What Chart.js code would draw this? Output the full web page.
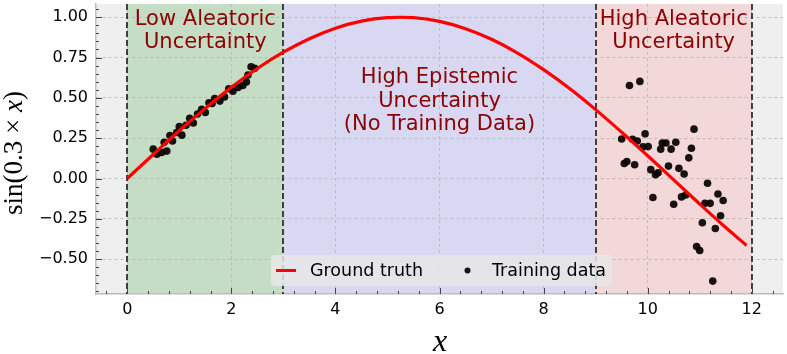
<!DOCTYPE html>
<html>
<head>
<meta charset="utf-8">
<script src="https://cdn.jsdelivr.net/npm/chart.js@4.4.0/dist/chart.umd.min.js"></script>
<style>
  html, body { margin: 0; padding: 0; background: #fff; }
  #chart { display: block; }
</style>
</head>
<body>
<canvas id="chart" width="787" height="354"></canvas>
<script>
// Ground truth curve
const curveX = [0, 0.5, 1, 1.5, 2, 2.5, 3, 3.5, 4, 4.5, 5, 5.5, 6, 6.5, 7, 7.5, 8, 8.5, 9, 9.5, 10, 10.5, 11, 11.5, 11.9];
const curveY = [0, 0.149, 0.296, 0.435, 0.565, 0.682, 0.783, 0.867, 0.932, 0.976, 0.997, 0.997, 0.974, 0.929, 0.863, 0.778, 0.675, 0.558, 0.427, 0.287, 0.141, -0.008, -0.158, -0.304, -0.415];

// Training points, low noise cluster (left)
const lowX = [0.50, 0.57, 0.66, 0.71, 0.76, 0.82, 0.87, 0.95, 1.00, 1.05, 1.13, 1.20, 1.27, 1.35, 1.43, 1.50, 1.57, 1.63, 1.68, 1.78, 1.87, 1.95, 2.03, 2.13, 2.22, 2.29, 2.32, 2.38, 2.45];
const lowY = [0.182, 0.150, 0.162, 0.225, 0.170, 0.267, 0.233, 0.285, 0.322, 0.269, 0.330, 0.373, 0.344, 0.400, 0.429, 0.409, 0.470, 0.465, 0.496, 0.480, 0.506, 0.557, 0.541, 0.565, 0.577, 0.598, 0.642, 0.693, 0.683];

// Training points, high noise cluster (right)
const highX = [9.50, 9.55, 9.60, 9.65, 9.71, 9.75, 9.80, 9.85, 9.91, 9.95, 10.01, 10.06, 10.10, 10.15, 10.20, 10.25, 10.28, 10.35, 10.40, 10.45, 10.50, 10.54, 10.60, 10.65, 10.70, 10.73, 10.79, 10.84, 10.89, 10.94, 11.00, 11.05, 11.10, 11.15, 11.20, 11.25, 11.30, 11.35, 11.40, 11.45];
const highY = [0.245, 0.093, 0.105, 0.577, 0.243, 0.085, 0.233, 0.602, 0.196, 0.277, 0.198, 0.055, -0.118, 0.024, 0.036, 0.182, 0.220, 0.220, 0.077, 0.182, -0.160, 0.225, 0.063, -0.114, 0.028, -0.102, 0.128, 0.188, 0.306, -0.422, -0.446, -0.274, -0.154, -0.029, -0.154, -0.636, -0.310, -0.096, -0.231, -0.136];

const xTicks = [0, 2, 4, 6, 8, 10, 12];
const yTicks = [-0.5, -0.25, 0, 0.25, 0.5, 0.75, 1.0];

// Shaded regions and their labels
const regionStart = [0, 3, 9];
const regionEnd = [3, 9, 12];
const regionLabels = [
    ['Low Aleatoric', 'Uncertainty'],
    ['High Epistemic', 'Uncertainty', '(No Training Data)'],
    ['High Aleatoric', 'Uncertainty']
];
const boundaries = [0, 3, 9, 12];

const regionColors = ['#c5ddc5', '#d8d8f2', '#f2d8d8'];
const labelAt = [[1.5, 0.915], [6, 0.48], [10.5, 0.915]];

const toPoints = (xs, ys) => xs.map((x, i) => ({ x: x, y: ys[i] }));
const trainX = lowX.concat(highX);
const trainY = lowY.concat(highY);

// background, regions and dashed boundaries
const regionsPlugin = {
    id: 'regions',
    beforeDraw(chart) {
        const { ctx, chartArea: a, scales: { x } } = chart;
        ctx.save();
        ctx.fillStyle = '#efefef';
        ctx.fillRect(a.left, a.top, a.right - a.left, a.bottom - a.top);
        regionStart.forEach((s, i) => {
            const x0 = x.getPixelForValue(s);
            const x1 = x.getPixelForValue(regionEnd[i]);
            ctx.fillStyle = regionColors[i];
            ctx.fillRect(x0, a.top, x1 - x0, a.bottom - a.top);
        });
        ctx.restore();
    },
    beforeDatasetsDraw(chart) {
        const { ctx, chartArea: a, scales: { x } } = chart;
        ctx.save();
        ctx.strokeStyle = '#1a1a1a';
        ctx.lineWidth = 1.6;
        ctx.setLineDash([6, 3]);
        boundaries.forEach(b => {
            const px = Math.round(x.getPixelForValue(b));
            ctx.beginPath();
            ctx.moveTo(px, a.top);
            ctx.lineTo(px, a.bottom);
            ctx.stroke();
        });
        ctx.restore();
    },
    afterDatasetsDraw(chart) {
        const { ctx, scales: { x, y } } = chart;
        ctx.save();
        ctx.fillStyle = '#8b0000';
        ctx.font = '21px "DejaVu Sans"';
        ctx.textAlign = 'center';
        ctx.textBaseline = 'middle';
        const lh = 23.5;
        regionLabels.forEach((lines, i) => {
            const cx = x.getPixelForValue(labelAt[i][0]);
            const cy = y.getPixelForValue(labelAt[i][1]);
            const top = cy - (lines.length - 1) * lh / 2;
            lines.forEach((t, j) => ctx.fillText(t, cx, top + j * lh));
        });
        ctx.restore();
    }
};

// inward major/minor ticks, axis titles, legend
const decorPlugin = {
    id: 'decor',
    afterDraw(chart) {
        const { ctx, chartArea: a, scales: { x, y } } = chart;
        const data = chart.data.datasets;
        ctx.save();
        ctx.strokeStyle = '#444';
        ctx.lineWidth = 1;
        for (let k = -14; k <= 21; k++) {
            const v = k * 0.05;
            const py = Math.round(y.getPixelForValue(v)) + 0.5;
            if (py < a.top || py > a.bottom) continue;
            const len = (k % 5 === 0) ? 6 : 3;
            ctx.beginPath();
            ctx.moveTo(a.left, py);
            ctx.lineTo(a.left + len, py);
            ctx.stroke();
        }
        for (let k = -1; k <= 31; k++) {
            const v = k * 0.4;
            const px = Math.round(x.getPixelForValue(v)) + 0.5;
            if (px < a.left || px > a.right) continue;
            const len = (k % 5 === 0) ? 6 : 3;
            ctx.beginPath();
            ctx.moveTo(px, a.bottom);
            ctx.lineTo(px, a.bottom - len);
            ctx.stroke();
        }

        // x axis title
        ctx.fillStyle = '#000';
        ctx.textAlign = 'center';
        ctx.textBaseline = 'alphabetic';
        ctx.font = 'italic 32px "Liberation Serif"';
        ctx.fillText('x', (a.left + a.right) / 2 + 0.5, 351);

        // y axis title: sin(0.3 × x)
        const parts = [
            ['sin(0.3 × ', '27px "Liberation Serif"'],
            ['x', 'italic 27px "Liberation Serif"'],
            [')', '27px "Liberation Serif"']
        ];
        let total = 0;
        parts.forEach(p => { ctx.font = p[1]; total += ctx.measureText(p[0]).width; });
        ctx.translate(22, (a.top + a.bottom) / 2 + 4);
        ctx.rotate(-Math.PI / 2);
        ctx.textAlign = 'left';
        let cx = -total / 2;
        parts.forEach(p => {
            ctx.font = p[1];
            ctx.fillText(p[0], cx, 0);
            cx += ctx.measureText(p[0]).width;
        });
        ctx.setTransform(1, 0, 0, 1, 0, 0);

        // legend inside the plot
        const bx = 271, by = 255, bw = 341, bh = 31;
        ctx.fillStyle = 'rgba(232,232,232,0.85)';
        ctx.beginPath();
        ctx.roundRect(bx, by, bw, bh, 4);
        ctx.fill();
        const my = by + bh / 2;
        ctx.strokeStyle = data[0].borderColor;
        ctx.lineWidth = 3;
        ctx.beginPath();
        ctx.moveTo(276, my);
        ctx.lineTo(296, my);
        ctx.stroke();
        ctx.fillStyle = data[1].backgroundColor;
        ctx.beginPath();
        ctx.arc(467.5, my, 3, 0, Math.PI * 2);
        ctx.fill();
        ctx.fillStyle = '#000';
        ctx.font = '17.5px "DejaVu Sans"';
        ctx.textBaseline = 'middle';
        ctx.textAlign = 'left';
        ctx.fillText(data[0].label, 310, my + 1);
        ctx.fillText(data[1].label, 492, my + 1);
        ctx.restore();
    }
};

const fmtY = v => v.toFixed(2).replace('-', '\u2212');

new Chart(document.getElementById('chart'), {
    type: 'scatter',
    data: {
        datasets: [
            {
                label: 'Ground truth',
                data: toPoints(curveX, curveY),
                showLine: true,
                borderColor: '#ff0000',
                borderWidth: 3.2,
                pointRadius: 0,
                tension: 0.4,
                order: 0
            },
            {
                label: 'Training data',
                data: toPoints(trainX, trainY),
                backgroundColor: 'rgba(8,0,0,0.92)',
                borderWidth: 0,
                pointRadius: 3.8,
                order: 1
            }
        ]
    },
    options: {
        responsive: false,
        animation: false,
        devicePixelRatio: 1,
        layout: { padding: { left: 0, top: 0, right: 0, bottom: 0 } },
        plugins: {
            legend: { display: false },
            tooltip: { enabled: false }
        },
        scales: {
            x: {
                type: 'linear',
                min: -0.6,
                max: 12.6,
                afterBuildTicks: s => { s.ticks = xTicks.map(v => ({ value: v })); },
                afterFit: s => { s.height = 60; s.paddingLeft = 0; s.paddingRight = 0; },
                ticks: {
                    callback: v => String(v),
                    font: { family: 'DejaVu Sans', size: 16 },
                    color: '#000',
                    padding: 6,
                    maxRotation: 0
                },
                grid: { color: '#b4b4b4', lineWidth: 0.8, drawTicks: false },
                border: { display: true, color: '#bcbcbc', width: 1.5, dash: [3, 3] }
            },
            y: {
                type: 'linear',
                min: -0.716,
                max: 1.082,
                afterBuildTicks: s => { s.ticks = yTicks.map(v => ({ value: v })); },
                afterFit: s => { s.width = 96; s.paddingTop = 0; s.paddingBottom = 0; },
                ticks: {
                    callback: fmtY,
                    font: { family: 'DejaVu Sans', size: 16 },
                    color: '#000',
                    padding: 8
                },
                grid: { color: '#b4b4b4', lineWidth: 0.8, drawTicks: false },
                border: { display: true, color: '#bcbcbc', width: 1.5, dash: [3, 3] }
            }
        }
    },
    plugins: [regionsPlugin, decorPlugin]
});
</script>
</body>
</html>
